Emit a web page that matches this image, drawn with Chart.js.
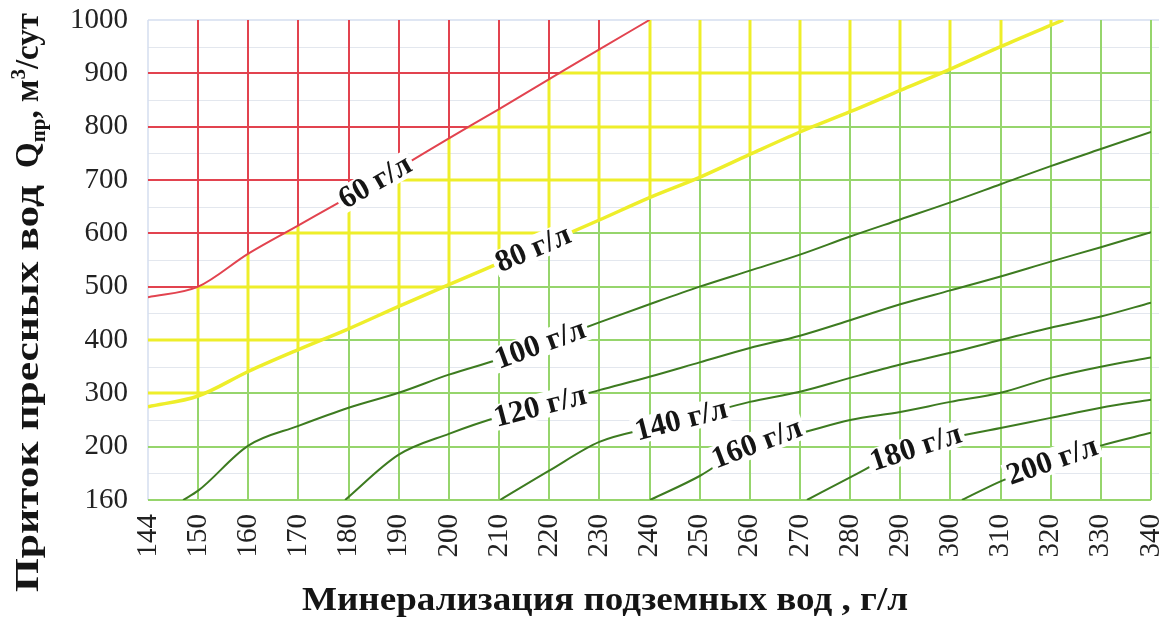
<!DOCTYPE html>
<html>
<head>
<meta charset="utf-8">
<script src="https://cdn.jsdelivr.net/npm/chart.js@4.4.1/dist/chart.umd.min.js"></script>
<style>
  html, body { margin: 0; background: #fff; }
  #wrap { width: 1172px; height: 621px; }
</style>
</head>
<body>
<div id="wrap"><canvas id="chart"></canvas></div>
<script>
// подписи осей (шкалы неравномерные: 144-150 и 160-200 растянуты)
const xTicks = [144, 150, 160, 170, 180, 190, 200, 210, 220, 230, 240, 250, 260, 270, 280, 290, 300, 310, 320, 330, 340];
const yTicks = [160, 200, 300, 400, 500, 600, 700, 800, 900, 1000];

// изолинии: минерализация подземных вод (г/л) -> приток (м3/сут)
const m60 = [144, 150, 160, 170, 180, 190, 200, 210, 220, 230, 240];
const q60 = [480, 500, 562, 615, 668, 722, 778, 833, 889, 945, 1000];
const m80 = [144, 150, 160, 170, 180, 190, 200, 210, 220, 230, 240, 250, 260, 270, 280, 290, 300, 310, 322.5];
const q80 = [275, 295, 341, 382, 421, 463, 504, 544, 584, 625, 667, 705, 748, 790, 828, 868, 908, 950, 1000];
const m100 = [148.2, 150, 160, 170, 180, 190, 200, 210, 220, 230, 240, 250, 260, 270, 280, 290, 300, 310, 320, 330, 340];
const q100 = [160, 167, 202, 239, 273, 301, 335, 364, 398, 433, 467, 500, 530, 560, 594, 626, 658, 692, 726, 758, 790];
const m120 = [179.3, 190, 200, 210, 220, 230, 240, 250, 260, 270, 280, 290, 300, 310, 320, 330, 340];
const q120 = [160, 194, 224, 256, 280, 306, 331, 358, 385, 408, 437, 467, 493, 519, 547, 574, 602];
const m140 = [210.2, 220, 230, 240, 250, 260, 270, 280, 290, 300, 310, 320, 330, 340];
const q140 = [160, 182, 209, 235, 259, 284, 303, 329, 354, 376, 400, 423, 444, 470];
const m160 = [240.1, 250, 260, 270, 280, 290, 300, 310, 320, 330, 340];
const q160 = [160, 178, 203, 225, 250, 265, 284, 301, 329, 350, 367];
const m180 = [271.4, 280, 290, 300, 310, 320, 330, 340];
const q180 = [160, 177, 196, 216, 235, 254, 273, 288];
const m200 = [302.3, 310, 320, 330, 340];
const q200 = [160, 174, 189, 202, 226];

const curveNames = ['60 г/л', '80 г/л', '100 г/л', '120 г/л', '140 г/л', '160 г/л', '180 г/л', '200 г/л'];
const labelAt = [185.3, 216.8, 218.2, 218.2, 246.3, 261.4, 293.1, 320.3]; // где стоит подпись на линии

const SERIF = '"Liberation Serif", "Times New Roman", serif';
const RED = '#e2434f', YELLOW = '#eeee2a', GREEN = '#96d56c', DARK = '#3d7b20';

// значение -> позиция на неравномерной шкале
function toIdx(v, ticks) {
    for (let i = 0; i < ticks.length - 1; i++) {
        if (v <= ticks[i + 1] || i === ticks.length - 2) {
            return i + (v - ticks[i]) / (ticks[i + 1] - ticks[i]);
        }
    }
}

const curves = [
    { m: m60, q: q60, color: RED, width: 2 },
    { m: m80, q: q80, color: YELLOW, width: 3.5 },
    { m: m100, q: q100, color: DARK, width: 2 },
    { m: m120, q: q120, color: DARK, width: 2 },
    { m: m140, q: q140, color: DARK, width: 2 },
    { m: m160, q: q160, color: DARK, width: 2 },
    { m: m180, q: q180, color: DARK, width: 2 },
    { m: m200, q: q200, color: DARK, width: 2 }
];

function pixelPts(chart, c) {
    const { x, y } = chart.scales;
    return c.m.map((v, i) => [x.getPixelForValue(toIdx(v, xTicks)), y.getPixelForValue(toIdx(c.q[i], yTicks))]);
}

function yAtPx(pts, px) {
    for (let i = 0; i < pts.length - 1; i++) {
        if (px <= pts[i + 1][0] || i === pts.length - 2) {
            const t = (px - pts[i][0]) / (pts[i + 1][0] - pts[i][0]);
            return pts[i][1] + t * (pts[i + 1][1] - pts[i][1]);
        }
    }
}

// области выше / ниже изолинии (для раскраски сетки)
function abovePath(ctx, pts, a) {
    ctx.beginPath();
    ctx.moveTo(a.left - 10, pts[0][1]);
    pts.forEach(p => ctx.lineTo(p[0], p[1]));
    const last = pts[pts.length - 1];
    ctx.lineTo(last[0], a.top - 10);
    ctx.lineTo(a.left - 10, a.top - 10);
    ctx.closePath();
}
function belowPath(ctx, pts, a) {
    ctx.beginPath();
    ctx.moveTo(a.left - 10, pts[0][1]);
    pts.forEach(p => ctx.lineTo(p[0], p[1]));
    const last = pts[pts.length - 1];
    ctx.lineTo(last[0], a.top - 10);
    ctx.lineTo(a.right + 10, a.top - 10);
    ctx.lineTo(a.right + 10, a.bottom + 10);
    ctx.lineTo(a.left - 10, a.bottom + 10);
    ctx.closePath();
}

function drawGrid(chart, color, width) {
    const { ctx, chartArea: a, scales: { x, y } } = chart;
    ctx.strokeStyle = color;
    ctx.lineWidth = width;
    ctx.beginPath();
    for (let i = 1; i < xTicks.length; i++) {
        const px = Math.round(x.getPixelForValue(i));
        ctx.moveTo(px, a.top);
        ctx.lineTo(px, a.bottom);
    }
    for (let j = 0; j < yTicks.length - 1; j++) {
        const py = Math.round(y.getPixelForValue(j));
        ctx.moveTo(a.left, py);
        ctx.lineTo(a.right, py);
    }
    ctx.stroke();
}

// текст, растянутый на заданную длину
function fitText(ctx, txt, x, y, len) {
    const w = ctx.measureText(txt).width;
    ctx.save();
    ctx.translate(x, y);
    ctx.scale(len / w, 1);
    ctx.fillText(txt, 0, 0);
    ctx.restore();
}

const zonesPlugin = {
    id: 'zones',
    beforeDatasetsDraw(chart) {
        const { ctx, chartArea: a, scales: { x, y } } = chart;
        ctx.save();
        // бледная вспомогательная сетка
        ctx.strokeStyle = '#e3e7ee';
        ctx.lineWidth = 1;
        ctx.beginPath();
        for (let j = 0; j < yTicks.length - 1; j++) {
            const py = Math.round(y.getPixelForValue(j + 0.5)) + 0.5;
            ctx.moveTo(a.left, py);
            ctx.lineTo(a.right + 8, py);
        }
        ctx.stroke();
        ctx.strokeStyle = '#d5def0';
        ctx.lineWidth = 1.5;
        ctx.beginPath();
        ctx.moveTo(a.left, a.top);
        ctx.lineTo(a.right + 8, a.top);
        ctx.moveTo(a.left, a.top);
        ctx.lineTo(a.left, a.bottom);
        ctx.stroke();

        const p60 = pixelPts(chart, curves[0]);
        const p80 = pixelPts(chart, curves[1]);

        ctx.save();
        belowPath(ctx, p80, a);
        ctx.clip();
        drawGrid(chart, GREEN, 2);
        ctx.restore();

        ctx.save();
        abovePath(ctx, p80, a);
        ctx.clip();
        belowPath(ctx, p60, a);
        ctx.clip();
        drawGrid(chart, YELLOW, 3);
        ctx.restore();

        ctx.save();
        abovePath(ctx, p60, a);
        ctx.clip();
        drawGrid(chart, RED, 2);
        ctx.restore();

        ctx.restore();
    },
    afterDatasetsDraw(chart) {
        const { ctx, scales: { x } } = chart;
        ctx.save();
        ctx.font = 'bold 31px ' + SERIF;
        ctx.textAlign = 'center';
        ctx.textBaseline = 'middle';
        curves.forEach((c, k) => {
            const pts = pixelPts(chart, c);
            const px = x.getPixelForValue(toIdx(labelAt[k], xTicks));
            const py = yAtPx(pts, px);
            const ang = Math.atan2(yAtPx(pts, px + 30) - yAtPx(pts, px - 30), 60);
            const w = ctx.measureText(curveNames[k]).width + 6;
            ctx.save();
            ctx.translate(px, py);
            ctx.rotate(ang);
            ctx.fillStyle = '#fff';
            ctx.fillRect(-w / 2, -13, w, 26);
            ctx.fillStyle = '#151515';
            ctx.fillText(curveNames[k], 0, 1);
            ctx.restore();
        });
        ctx.restore();
    },
    afterDraw(chart) {
        const { ctx } = chart;
        ctx.save();
        ctx.fillStyle = '#151515';
        ctx.textBaseline = 'alphabetic';
        ctx.textAlign = 'left';
        // подпись оси X
        ctx.font = 'bold 33px ' + SERIF;
        fitText(ctx, 'Минерализация подземных вод , г/л', 302, 610, 606);
        // подпись оси Y с индексами
        ctx.translate(38, 592);
        ctx.rotate(-Math.PI / 2);
        ctx.font = 'bold 33px ' + SERIF;
        fitText(ctx, 'Приток пресных вод', 0, 0, 407);
        let pos = 424;
        const put = (txt, size, dy) => {
            ctx.font = 'bold ' + size + 'px ' + SERIF;
            ctx.fillText(txt, pos, dy);
            pos += ctx.measureText(txt).width;
        };
        put('Q', 33, 0);
        put('пр', 21, 7);
        put(', м', 33, 0);
        put('3', 21, -13);
        put('/сут', 33, 0);
        ctx.restore();
    }
};

new Chart(document.getElementById('chart'), {
    type: 'line',
    data: {
        datasets: curves.map((c, k) => ({
            label: curveNames[k],
            data: c.m.map((v, i) => ({ x: toIdx(v, xTicks), y: toIdx(c.q[i], yTicks) })),
            borderColor: c.color,
            borderWidth: c.width,
            pointRadius: 0,
            cubicInterpolationMode: 'monotone',
            fill: false
        }))
    },
    options: {
        responsive: true,
        maintainAspectRatio: false,
        animation: false,
        layout: { padding: { top: 20, right: 21, left: 0, bottom: 0 } },
        plugins: { legend: { display: false }, tooltip: { enabled: false } },
        scales: {
            x: {
                type: 'linear',
                min: 0,
                max: xTicks.length - 1,
                afterBuildTicks: s => { s.ticks = xTicks.map((_, i) => ({ value: i })); },
                afterFit: s => { s.height = 121; s.paddingLeft = 0; s.paddingRight = 0; },
                ticks: {
                    callback: v => String(xTicks[v]),
                    autoSkip: false,
                    minRotation: 90,
                    maxRotation: 90,
                    padding: 14,
                    color: '#222',
                    font: { family: SERIF, size: 29 }
                },
                grid: { display: false, drawTicks: false },
                border: { display: false }
            },
            y: {
                type: 'linear',
                min: 0,
                max: yTicks.length - 1,
                afterBuildTicks: s => { s.ticks = yTicks.map((_, i) => ({ value: i })); },
                afterFit: s => { s.width = 148; s.paddingTop = 0; s.paddingBottom = 0; },
                ticks: {
                    callback: v => String(yTicks[v]),
                    autoSkip: false,
                    padding: 20,
                    color: '#222',
                    font: { family: SERIF, size: 29 }
                },
                grid: { display: false, drawTicks: false },
                border: { display: false }
            }
        }
    },
    plugins: [zonesPlugin]
});
</script>
</body>
</html>
